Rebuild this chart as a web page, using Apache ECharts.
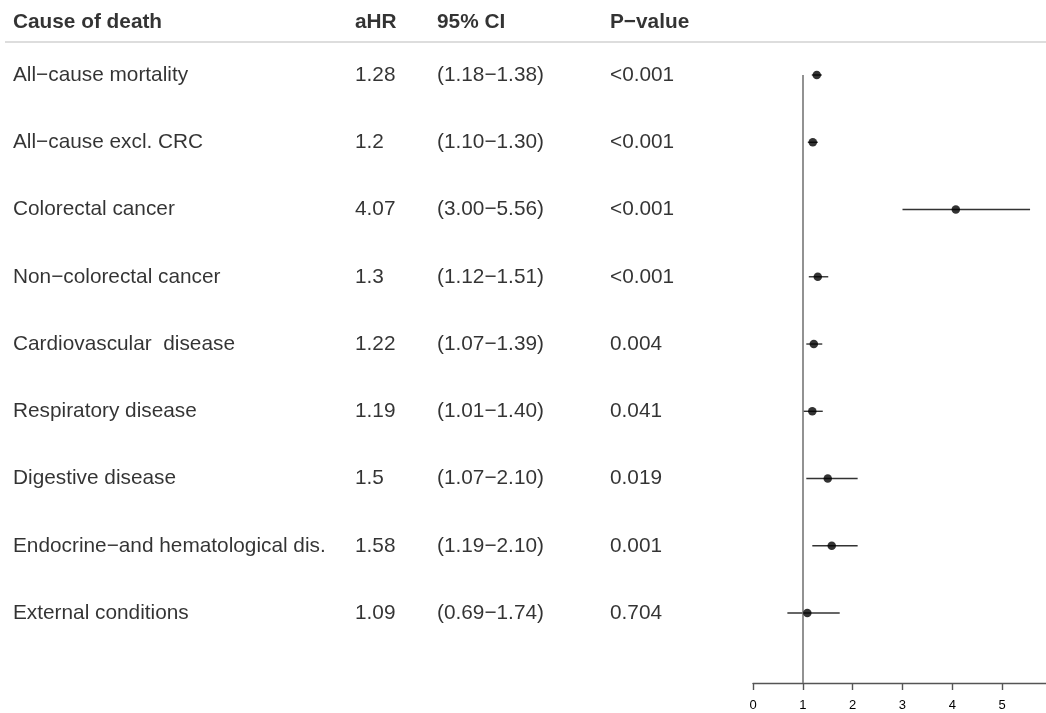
<!DOCTYPE html>
<html><head><meta charset="utf-8">
<script src="https://cdn.jsdelivr.net/npm/echarts@6/dist/echarts.min.js"></script>
<style>html,body{margin:0;padding:0;background:#fff}#c{width:1046px;height:713px}</style>
</head><body><div id="c"></div>
<script>
var causes = ["All−cause mortality","All−cause excl. CRC","Colorectal cancer","Non−colorectal cancer","Cardiovascular  disease","Respiratory disease","Digestive disease","Endocrine−and hematological dis.","External conditions"];
var ahrLabels = ["1.28","1.2","4.07","1.3","1.22","1.19","1.5","1.58","1.09"];
var ahr = [1.28,1.2,4.07,1.3,1.22,1.19,1.5,1.58,1.09];
var lower = [1.18,1.10,3.00,1.12,1.07,1.01,1.07,1.19,0.69];
var upper = [1.38,1.30,5.56,1.51,1.39,1.40,2.10,2.10,1.74];
var ciLabels = ["(1.18−1.38)","(1.10−1.30)","(3.00−5.56)","(1.12−1.51)","(1.07−1.39)","(1.01−1.40)","(1.07−2.10)","(1.19−2.10)","(0.69−1.74)"];
var pLabels = ["<0.001","<0.001","<0.001","<0.001","0.004","0.041","0.019","0.001","0.704"];
var headers = ["Cause of death","aHR","95% CI","P−value"];
var xTicks = [0,1,2,3,4,5];

var colX = [13,355,437,610];
var font = '"Liberation Sans", Arial, sans-serif';
function textSeries(x, labels, bold, yOff){
  return {
    type:'scatter', xAxisIndex:1, yAxisIndex:1, symbolSize:0, silent:true,
    data: labels.map(function(t,i){return {value:[x, yOff===undefined? i : yOff], name:t};}),
    label:{show:true, position:'right', distance:0, formatter:function(p){return p.name;},
      fontFamily:font, fontSize:20.8, color:'#000', fontWeight: bold?'bold':'normal'}
  };
}
var series = [];
var cols = [causes, ahrLabels, ciLabels, pLabels];
cols.forEach(function(c,k){ series.push(textSeries(colX[k], c, false)); });
headers.forEach(function(h,k){ series.push(textSeries(colX[k], [h], true, -0.79)); });

series.push({
  type:'custom', xAxisIndex:0, yAxisIndex:0, silent:true,
  data: lower.map(function(l,i){return [l, upper[i], i];}),
  renderItem:function(params, api){
    var a = api.coord([api.value(0), api.value(2)]);
    var b = api.coord([api.value(1), api.value(2)]);
    return {type:'line', shape:{x1:a[0],y1:a[1],x2:b[0],y2:b[1]}, style:{stroke:'#333', lineWidth:1.4}};
  },
  markLine:{silent:true, symbol:'none', label:{show:false},
    lineStyle:{color:'#777', type:'solid', width:1.6},
    data:[{xAxis:1}]}
});
series.push({
  type:'scatter', xAxisIndex:0, yAxisIndex:0, symbol:'circle', symbolSize:8.5, silent:true,
  itemStyle:{color:'#000'}, z:5,
  data: ahr.map(function(v,i){return [v,i];})
});

var chart = echarts.init(document.getElementById('c'), null, {renderer:'canvas'});
chart.setOption({
  animation:false,
  grid:[
    {left:753, width:293, top:75, height:608},
    {left:0, width:740, top:7.75, height:675.25}
  ],
  xAxis:[
    {type:'value', gridIndex:0, min:0, max:5.88, interval:1, splitLine:{show:false},
      axisLine:{show:true, onZero:false, lineStyle:{color:'#555', width:1.4}},
      axisTick:{show:true, length:7, customValues:xTicks, lineStyle:{color:'#555', width:1.4}},
      axisLabel:{fontFamily:font, fontSize:13, color:'#000', margin:16, customValues:xTicks,
        formatter:function(v){return String(v);}}},
    {type:'value', gridIndex:1, min:0, max:740, show:false}
  ],
  yAxis:[
    {type:'value', gridIndex:0, inverse:true, min:0, max:9.04, show:false},
    {type:'value', gridIndex:1, inverse:true, min:-1, max:9.04, show:false}
  ],
  graphic:[{type:'line', shape:{x1:5,y1:42,x2:1046,y2:42}, style:{stroke:'#ddd', lineWidth:2}}],
  series:series
});
</script></body></html>
